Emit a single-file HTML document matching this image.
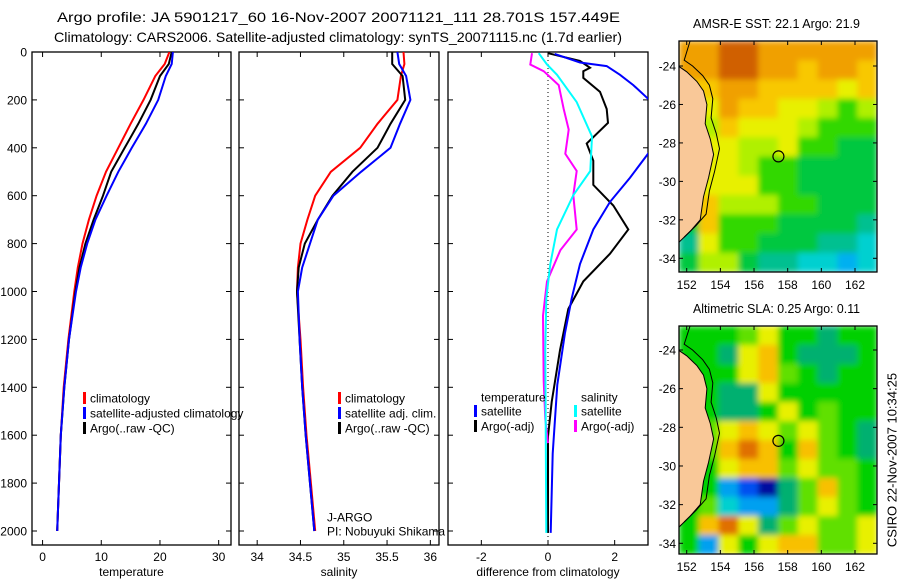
<!DOCTYPE html>
<html><head><meta charset="utf-8"><style>
body{margin:0;background:#fff;}
svg{display:block;font-family:"Liberation Sans",sans-serif;}
</style></head><body>
<svg id="c" width="900" height="580" viewBox="0 0 900 580">
<defs>
<clipPath id="cp1"><rect x="32" y="52" width="199" height="493"/></clipPath>
<clipPath id="cp2"><rect x="239" y="52" width="200" height="493"/></clipPath>
<clipPath id="cp3"><rect x="448" y="52" width="200" height="493"/></clipPath>
<clipPath id="cm1"><rect x="679" y="41" width="198" height="231"/></clipPath>
<clipPath id="cm2"><rect x="679" y="326" width="198" height="228"/></clipPath>
<filter id="blur" x="0" y="0" width="1" height="1"><feGaussianBlur stdDeviation="3" edgeMode="duplicate"/></filter>
</defs>
<text x="57" y="22" font-size="14" textLength="563" lengthAdjust="spacingAndGlyphs">Argo profile: JA 5901217_60 16-Nov-2007 20071121_111 28.701S 157.449E</text>
<text x="54" y="42" font-size="14" textLength="568" lengthAdjust="spacingAndGlyphs">Climatology: CARS2006. Satellite-adjusted climatology: synTS_20071115.nc (1.7d earlier)</text>
<g id="g"></g>
<text x="893" y="460" font-size="13" text-anchor="middle" transform="rotate(-90 893 460)" dominant-baseline="middle">CSIRO 22-Nov-2007 10:34:25</text>
</svg>
<script>
// ---- data ----
const depth = [0,50,100,200,300,400,500,600,700,800,900,1000,1200,1400,1600,1800,2000];
const tClim = [21.6,20.8,19.2,17.2,15.0,12.9,10.8,9.2,7.9,6.8,6.0,5.4,4.4,3.6,3.1,2.8,2.5];
const tSat  = [22.2,22.0,21.0,19.7,17.6,15.2,12.9,10.9,9.0,7.6,6.5,5.7,4.5,3.7,3.1,2.8,2.5];
const tArgo = [22.0,21.5,20.0,18.4,16.3,14.0,11.7,10.3,8.7,7.3,6.3,5.6,4.5,3.7,3.1,2.8,2.5];
const sClim = [35.69,35.70,35.66,35.62,35.39,35.19,34.85,34.67,34.58,34.50,34.47,34.46,34.50,34.53,34.57,34.62,34.67];
const sSat  = [35.62,35.64,35.72,35.77,35.65,35.54,35.20,34.88,34.70,34.61,34.52,34.47,34.49,34.52,34.56,34.61,34.66];
const sArgo = [35.56,35.56,35.68,35.71,35.54,35.39,35.10,34.87,34.70,34.55,34.48,34.46,34.49,34.52,34.56,34.61,34.66];
const dTSatDepth = [8,44,59,95,138,195,300,425,525,626,741,885,1029,1173,1389,1677,2008];
const dTSat      = [0.2,0.96,1.76,2.16,2.56,3.0,3.8,3.0,2.46,1.86,1.36,0.96,0.71,0.51,0.28,0.14,0.08];
const dTArgoDepth = [5,37,66,80,108,166,238,296,382,454,555,641,741,842,958,1073,1245,1461,1605,2008];
const dTArgo      = [0,0.96,1.26,1.06,1.06,1.56,1.76,1.8,1.16,1.36,1.36,1.96,2.41,1.86,1.06,0.61,0.36,0.11,0.0,0.0];
const dSSatDepth = [5,52,95,209,353,497,598,741,885,1029,1245,2008];
const dSSat      = [-0.28,-0.03,0.27,0.86,1.32,1.27,0.76,0.27,0.07,-0.05,-0.08,-0.05];
const dSArgoDepth = [5,52,80,138,238,324,425,497,598,741,828,958,1101,1374,1532,1633];
const dSArgo      = [-0.48,-0.53,-0.13,0.32,0.47,0.62,0.52,0.86,0.76,0.86,0.37,-0.03,-0.15,-0.13,-0.08,0];
const depthTicks = [0,200,400,600,800,1000,1200,1400,1600,1800,2000];
const tTicks = [0,10,20,30];
const sTicks = [34,34.5,35,35.5,36];
const dTicks = [-2,0,2];
const sstGrid = [
[1,1,0,0,1,1,1,1,1,1],[1,1,0,0,1,1,2,1,1,2],[2,2,1,1,2,2,2,2,3,2],[2,3,1,2,2,3,3,4,5,4],
[2,4,2,3,3,3,4,5,5,5],[2,3,3,4,4,3,5,5,6,6],[2,3,3,4,5,5,6,6,6,6],[2,3,3,3,5,5,6,6,6,6],
[2,2,4,4,4,5,5,6,6,6],[6,2,5,5,5,6,6,6,6,7],[7,3,5,5,6,6,6,7,7,8],[6,4,4,6,7,7,8,8,9,8]];
const slaGrid = [
[5,5,5,6,7,5,5,4,5,5],[5,5,4,7,8,5,4,4,4,5],[5,5,5,7,8,6,5,4,5,5],[5,5,4,4,7,5,5,5,5,5],
[5,5,4,4,5,7,5,6,5,5],[5,6,7,8,7,6,7,6,5,4],[5,6,8,9,8,5,8,6,5,4],[5,5,7,8,8,6,7,6,6,5],
[5,5,2,1,0,4,6,8,6,5],[5,6,3,2,2,4,6,7,6,5],[5,8,9,7,4,6,7,6,6,7],[5,2,7,5,7,8,8,6,6,7]];
const lonTicks = [152,154,156,158,160,162];
const latTicks = [-24,-26,-28,-30,-32,-34];
const coastLon = [151.5,152.0,152.6,153.0,153.2,153.1,153.4,153.6,153.3,153.0,152.8,152.2,151.5];
const coastLat = [-24.0,-24.3,-24.8,-25.3,-26.0,-27.0,-27.8,-28.6,-29.8,-30.8,-32.0,-32.6,-33.2];
const argoLon = 157.45, argoLat = -28.7;

const sstPal = ['#d06000','#f0a000','#f8c800','#e8f000','#b0f000','#30d800','#00c840','#00c090','#00d0d0','#00b0f0'];
const slaPal = ['#0010a0','#0050f0','#00a0f0','#00d0d0','#00b070','#00d000','#60e000','#e8f000','#f8c000','#e07000'];

const NS='http://www.w3.org/2000/svg';
const G=document.getElementById('g');
function el(tag,attrs,parent){const e=document.createElementNS(NS,tag);for(const k in attrs)e.setAttribute(k,attrs[k]);(parent||G).appendChild(e);return e;}
const yD = d => 52 + d*0.2395;
function panel(name,x0,x1,xmin,xmax,ticks,label,clip){
  const sx=v=>x0+(v-xmin)/(xmax-xmin)*(x1-x0);
  const g=el('g',{});
  
  
  const r=el('rect',{x:x0,y:52,width:x1-x0,height:493,fill:'none',stroke:'#000','stroke-width':1.3},g);
  
  
  ticks.forEach(t=>{
    const x=sx(t);
    el('line',{x1:x,x2:x,y1:545,y2:540,stroke:'#000'},g);
    el('line',{x1:x,x2:x,y1:52,y2:57,stroke:'#000'},g);
    const tx=el('text',{x:x,y:561,'font-size':12,'text-anchor':'middle'},g);tx.textContent=String(t);
    
    
  });
  depthTicks.forEach(d=>{
    el('line',{x1:x0,x2:x0+5,y1:yD(d),y2:yD(d),stroke:'#000'},g);
    el('line',{x1:x1,x2:x1-5,y1:yD(d),y2:yD(d),stroke:'#000'},g);
  });
  const l=el('text',{x:(x0+x1)/2,y:576,'font-size':12,'text-anchor':'middle'},g);l.textContent=label;
  
  
  return {sx,g,clip};
}
function line(p,depths,vals,color,name,w){
  const pts=vals.map((v,i)=>p.sx(v).toFixed(1)+','+yD(depths[i]).toFixed(1)).join(' ');
  const pl=el('polyline',{points:pts,fill:'none',stroke:color,'stroke-width':w||2,'clip-path':'url(#'+p.clip+')'},p.g);
  
  
}
function legend(x,y,color,text,name,g){
  if(color){el('rect',{x:x-7,y:y-6,width:3,height:12,fill:color},g);}
  const t=el('text',{x:x,y:y+4.5,'font-size':12},g);t.textContent=text;
  
  
}
depthTicks.forEach(d=>{
  const t=el('text',{x:27,y:yD(d)+4.5,'font-size':12,'text-anchor':'end'});t.textContent=String(d);
  
  
});
const p1=panel('temperature',32,231,-1.8,32.1,tTicks,'temperature','cp1');
line(p1,depth,tClim,'#f00','temp-climatology-line');
line(p1,depth,tArgo,'#000','temp-argo-line');
line(p1,depth,tSat,'#00f','temp-satellite-line');
legend(90,398,'#f00','climatology','legend-climatology',p1.g);
legend(90,413,'#00f','satellite-adjusted climatology','legend-satellite',p1.g);
legend(90,428,'#000','Argo(..raw -QC)','legend-argo',p1.g);
const p2=panel('salinity',239,439,33.79,36.1,sTicks,'salinity','cp2');
line(p2,depth,sClim,'#f00','sal-climatology-line');
line(p2,depth,sArgo,'#000','sal-argo-line');
line(p2,depth,sSat,'#00f','sal-satellite-line');
legend(345,398,'#f00','climatology','legend-sal-climatology',p2.g);
legend(345,413,'#00f','satellite adj. clim.','legend-sal-satellite',p2.g);
legend(345,428,'#000','Argo(..raw -QC)','legend-sal-argo',p2.g);
legend(327,517,null,'J-ARGO','argo-program-label',p2.g);
legend(327,531,null,'PI: Nobuyuki Shikama','pi-label',p2.g);
const p3=panel('difference',448,648,-3,3,dTicks,'difference from climatology','cp3');
el('line',{x1:p3.sx(0),x2:p3.sx(0),y1:52,y2:545,stroke:'#000','stroke-dasharray':'1,3'},p3.g);
line(p3,dTArgoDepth,dTArgo,'#000','diff-temp-argo-line');
line(p3,dTSatDepth,dTSat,'#00f','diff-temp-satellite-line');
line(p3,dSArgoDepth,dSArgo,'#f0f','diff-sal-argo-line');
line(p3,dSSatDepth,dSSat,'#0ff','diff-sal-satellite-line');
legend(481,397,null,'temperature','legend-diff-temperature',p3.g);
legend(481,411,'#00f','satellite','legend-diff-temp-satellite',p3.g);
legend(481,426,'#000','Argo(-adj)','legend-diff-temp-argo',p3.g);
legend(581,397,null,'salinity','legend-diff-salinity',p3.g);
legend(581,411,'#0ff','satellite','legend-diff-sal-satellite',p3.g);
legend(581,426,'#f0f','Argo(-adj)','legend-diff-sal-argo',p3.g);

function map(name,top,bot,lat24,lat34,grid,pal,title,clip){
  const x0=679,x1=877;
  const sx=lon=>686.7+(lon-152)*16.83;
  const sy=lat=>lat24+(-24-lat)*(lat34-lat24)/10;
  const g=el('g',{});
  
  
  const gc=el('g',{'clip-path':'url(#'+clip+')'},g);
  const gb=el('g',{filter:'url(#blur)'},gc);
  const rows=grid.length, cols=grid[0].length, cw=(x1-x0)/cols, ch=(bot-top)/rows;
  grid.forEach((row,i)=>row.forEach((v,j)=>{
    const c=el('rect',{x:x0+j*cw,y:top+i*ch,width:cw+0.5,height:ch+0.5,fill:pal[v]},gb);
    
    
  }));
  let pts=coastLon.map((l,i)=>sx(l).toFixed(1)+','+sy(coastLat[i]).toFixed(1));
  pts.push(x0+','+sy(coastLat[coastLat.length-1]).toFixed(1));
  pts.push(x0+','+sy(coastLat[0]).toFixed(1));
  const land=el('polygon',{points:pts.join(' '),fill:'#f9c898',stroke:'#000','stroke-width':1},gc);
  
  
  const off=coastLon.map((l,i)=>sx(l+0.35).toFixed(1)+','+sy(coastLat[i]+0.3).toFixed(1)).join(' ');
  el('polyline',{points:sx(152.2)+','+top+' '+off,fill:'none',stroke:'#000','stroke-width':1},gc);
  const ci=el('circle',{cx:sx(argoLon),cy:sy(argoLat),r:5.5,fill:'none',stroke:'#000','stroke-width':1.2},g);
  
  
  el('rect',{x:x0,y:top,width:x1-x0,height:bot-top,fill:'none',stroke:'#000','stroke-width':1.3},g);
  lonTicks.forEach(l=>{
    el('line',{x1:sx(l),x2:sx(l),y1:bot,y2:bot-4,stroke:'#000'},g);
    el('line',{x1:sx(l),x2:sx(l),y1:top,y2:top+4,stroke:'#000'},g);
    const t=el('text',{x:sx(l),y:bot+17,'font-size':12,'text-anchor':'middle'},g);t.textContent=String(l);
    
    
  });
  latTicks.forEach(l=>{
    el('line',{x1:x0,x2:x0+4,y1:sy(l),y2:sy(l),stroke:'#000'},g);
    el('line',{x1:x1,x2:x1-4,y1:sy(l),y2:sy(l),stroke:'#000'},g);
    const t=el('text',{x:676,y:sy(l)+4.5,'font-size':12,'text-anchor':'end'},g);t.textContent=String(l);
    
    
  });
  const tt=el('text',{x:693,y:top-13,'font-size':13,textLength:167,lengthAdjust:'spacingAndGlyphs'},g);tt.textContent=title;
  
  
}
map('sst',41,272,66,258.3,sstGrid,sstPal,'AMSR-E SST: 22.1 Argo: 21.9','cm1');
map('sla',326,554,350,543.3,slaGrid,slaPal,'Altimetric SLA: 0.25 Argo: 0.11','cm2');
</script>
</body></html>
